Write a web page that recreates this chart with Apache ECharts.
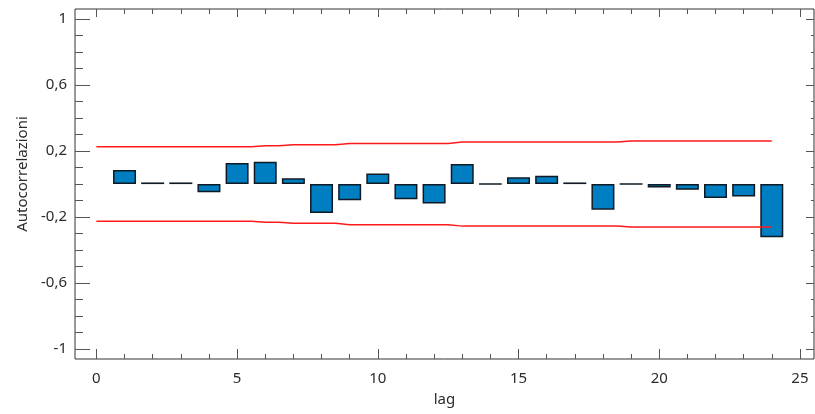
<!DOCTYPE html>
<html>
<head>
<meta charset="utf-8">
<script src="https://cdn.jsdelivr.net/npm/echarts@6/dist/echarts.min.js"></script>
<style>
  html, body { margin: 0; padding: 0; background: #fff; }
  #chart { width: 815px; height: 414px; }
</style>
</head>
<body>
<div id="chart"></div>
<script>
// Autocorrelation by lag
const lags = [1, 2, 3, 4, 5, 6, 7, 8, 9, 10, 11, 12, 13, 14, 15, 16, 17, 18, 19, 20, 21, 22, 23, 24];
const acf = [0.086, 0.01, 0.01, -0.05, 0.128, 0.135, 0.035, -0.175, -0.098, 0.064, -0.092, -0.118,
             0.122, 0.002, 0.041, 0.051, 0.01, -0.155, 0.001, -0.02, -0.035, -0.084, -0.076, -0.322];

// Confidence limits (stepped, one value per lag from 0 to 24)
const bandLags = [0, 1, 2, 3, 4, 5, 6, 7, 8, 9, 10, 11, 12, 13, 14, 15, 16, 17, 18, 19, 20, 21, 22, 23, 24];
const upperLimit = [0.226, 0.226, 0.226, 0.226, 0.226, 0.226, 0.232, 0.238, 0.238, 0.246, 0.246, 0.246, 0.246,
                    0.255, 0.255, 0.255, 0.255, 0.255, 0.255, 0.261, 0.261, 0.261, 0.261, 0.261, 0.261];
const lowerLimit = [-0.226, -0.226, -0.226, -0.226, -0.226, -0.226, -0.232, -0.238, -0.238, -0.246, -0.246, -0.246, -0.246,
                    -0.255, -0.255, -0.255, -0.255, -0.255, -0.255, -0.261, -0.261, -0.261, -0.261, -0.261, -0.261];

// Tick positions
const xMajorTicks = [0, 5, 10, 15, 20, 25];
const xMinorTicks = [0, 1, 2, 3, 4, 5, 6, 7, 8, 9, 10, 11, 12, 13, 14, 15, 16, 17, 18, 19, 20, 21, 22, 23, 24, 25];
const yMajorTicks = [-1, -0.6, -0.2, 0.2, 0.6, 1];
const yMinorTicks = [-1, -0.9, -0.8, -0.7, -0.6, -0.5, -0.4, -0.3, -0.2, -0.1, 0, 0.1, 0.2, 0.3, 0.4, 0.5, 0.6, 0.7, 0.8, 0.9, 1];

const X_MIN = -0.76, X_MAX = 25.5;
const Y_MIN = -1.061, Y_MAX = 1.062;
const FONT = 'Noto Sans';
const TICK_COLOR = '#555';
const gridRect = { left: 75, right: 1, top: 9, bottom: 55 };

function xAxisDef(gridIndex, position, ticks, len, withLabels) {
  return {
    type: 'value', gridIndex, position, min: X_MIN, max: X_MAX,
    axisLine: { show: false, onZero: false },
    splitLine: { show: false },
    axisTick: { show: true, inside: true, length: len, customValues: ticks,
                lineStyle: { color: TICK_COLOR, width: 1 } },
    axisLabel: withLabels
      ? { show: true, customValues: ticks, margin: 12, fontFamily: FONT, fontSize: 15, color: '#2b2b2b' }
      : { show: false },
    name: withLabels ? 'lag' : '',
    nameLocation: 'middle', nameGap: 33,
    nameTextStyle: { fontFamily: FONT, fontSize: 15, color: '#2b2b2b' }
  };
}

function yAxisDef(gridIndex, position, ticks, len, withLabels) {
  return {
    type: 'value', gridIndex, position, min: Y_MIN, max: Y_MAX,
    axisLine: { show: false, onZero: false },
    splitLine: { show: false },
    axisTick: { show: true, inside: true, length: len, customValues: ticks,
                lineStyle: { color: TICK_COLOR, width: 1 } },
    axisLabel: withLabels
      ? { show: true, customValues: ticks, margin: 8, fontFamily: FONT, fontSize: 15, color: '#2b2b2b',
          formatter: v => String(v).replace('.', ',') }
      : { show: false },
    name: withLabels ? 'Autocorrelazioni' : '',
    nameLocation: 'middle', nameGap: 45, nameRotate: 90,
    nameTextStyle: { fontFamily: FONT, fontSize: 15, color: '#2b2b2b', padding: [0, 0, 0, 20] }
  };
}

const chart = echarts.init(document.getElementById('chart'), null, { renderer: 'canvas' });

chart.setOption({
  animation: false,
  backgroundColor: '#fff',
  grid: [
    Object.assign({ show: true, borderColor: '#333', borderWidth: 1, backgroundColor: 'transparent', containLabel: false }, gridRect),
    Object.assign({ show: false, containLabel: false }, gridRect)
  ],
  xAxis: [
    xAxisDef(0, 'bottom', xMajorTicks, 10, true),
    xAxisDef(0, 'top', xMajorTicks, 8, false),
    xAxisDef(1, 'bottom', xMinorTicks, 5, false),
    xAxisDef(1, 'top', xMinorTicks, 5, false)
  ],
  yAxis: [
    yAxisDef(0, 'left', yMajorTicks, 15, true),
    yAxisDef(0, 'right', yMajorTicks, 8, false),
    yAxisDef(1, 'left', yMinorTicks, 8, false),
    yAxisDef(1, 'right', yMinorTicks, 3, false)
  ],
  series: [
    {
      type: 'bar',
      xAxisIndex: 0, yAxisIndex: 0,
      barWidth: 23,
      data: lags.map((l, i) => [l, acf[i]]),
      itemStyle: { color: '#007EC2', borderColor: '#0f1a24', borderWidth: 1.5 },
      z: 2
    },
    {
      type: 'line',
      xAxisIndex: 0, yAxisIndex: 0,
      step: 'middle',
      showSymbol: false,
      data: bandLags.map((l, i) => [l, upperLimit[i]]),
      lineStyle: { color: '#ff1a1a', width: 1.5 },
      z: 3
    },
    {
      type: 'line',
      xAxisIndex: 0, yAxisIndex: 0,
      step: 'middle',
      showSymbol: false,
      data: bandLags.map((l, i) => [l, lowerLimit[i]]),
      lineStyle: { color: '#ff1a1a', width: 1.5 },
      z: 3
    }
  ]
});
</script>
</body>
</html>
